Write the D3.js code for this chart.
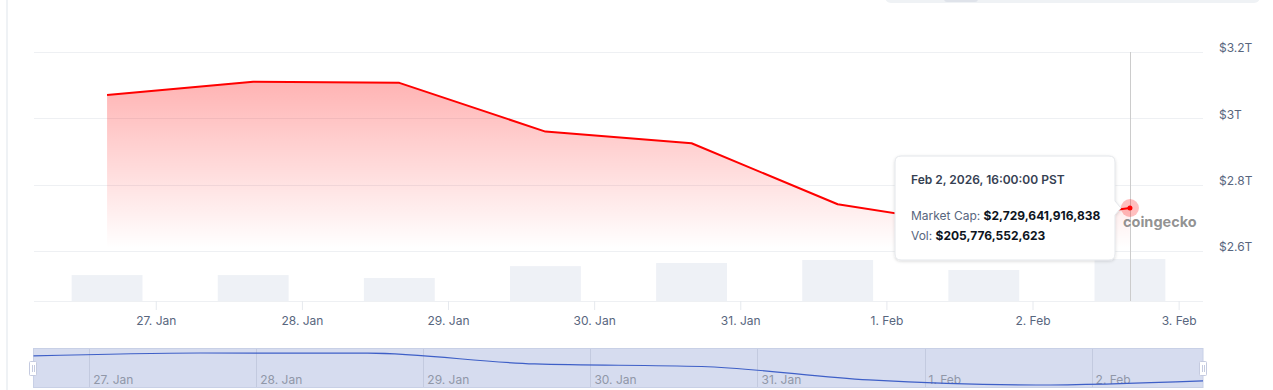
<!DOCTYPE html>
<html>
<head>
<meta charset="utf-8">
<script src="https://cdn.jsdelivr.net/npm/d3@7"></script>
<style>
  html, body { margin: 0; padding: 0; background: #fff; }
  svg { display: block; font-family: Inter, "Noto Sans", sans-serif; }
</style>
</head>
<body>
<svg id="chart" width="1273" height="390"></svg>
<script>
// daily points, 16:00 PST
const days = ['2026-01-26', '2026-01-27', '2026-01-28', '2026-01-29', '2026-01-30', '2026-01-31', '2026-02-01', '2026-02-02'];
const marketCap = [3.070e12, 3.110e12, 3.107e12, 2.960e12, 2.925e12, 2.741e12, 2.672e12, 2.729641916838e12];
const volume = [127e9, 127e9, 113e9, 171e9, 186e9, 201e9, 152e9, 205.776552623e9];
const priceTicks = [2.6e12, 2.8e12, 3.0e12, 3.2e12];
const tickDays = ['2026-01-27', '2026-01-28', '2026-01-29', '2026-01-30', '2026-01-31', '2026-02-01', '2026-02-02', '2026-02-03'];
const navTickDays = ['2026-01-27', '2026-01-28', '2026-01-29', '2026-01-30', '2026-01-31', '2026-02-01', '2026-02-02'];

const HOUR = 3600e3, DAY = 24 * HOUR;
const t = s => Date.parse(s + 'T00:00:00Z');
const data = days.map((d, i) => ({ date: new Date(t(d) + 16 * HOUR), cap: marketCap[i], vol: volume[i] }));
const last = data[data.length - 1];

const svg = d3.select('#chart');
const defs = svg.append('defs');

const x = d3.scaleUtc()
  .domain([new Date(t('2026-01-26') + 4 * HOUR), new Date(t('2026-02-03') + 4 * HOUR)])
  .range([34, 1203]);
const y = d3.scaleLinear().domain([2.6e12, 3.2e12]).range([251, 52]);
const yVol = d3.scaleLinear().domain([0, 250e9]).range([301, 250]);

// page chrome
svg.append('rect').attr('x', 6).attr('y', 0).attr('width', 2).attr('height', 390).attr('fill', '#eff2f5');
svg.append('rect').attr('x', 885).attr('y', -20).attr('width', 375).attr('height', 23).attr('rx', 6).attr('fill', '#eff2f5');
svg.append('rect').attr('x', 944).attr('y', -4).attr('width', 34).attr('height', 6).attr('rx', 3).attr('fill', '#dfe3ea');

// grid
svg.append('g').selectAll('line').data(priceTicks).join('line')
  .attr('x1', 34).attr('x2', 1203)
  .attr('y1', d => Math.round(y(d)) + 0.5).attr('y2', d => Math.round(y(d)) + 0.5)
  .attr('stroke', '#eef0f3');
svg.append('line').attr('x1', 34).attr('x2', 1203).attr('y1', 301.5).attr('y2', 301.5).attr('stroke', '#eef0f3');

// y labels
const fmtT = v => '$' + d3.format('~g')(v / 1e12) + 'T';
svg.append('g').selectAll('text').data(priceTicks).join('text')
  .attr('x', 1219).attr('y', d => y(d) - 4).attr('dy', '0.35em')
  .attr('font-size', 12).attr('fill', '#58667e')
  .text(fmtT);

// volume bars
const barW = 0.485 * DAY;
svg.append('g').selectAll('rect').data(data).join('rect')
  .attr('x', d => x(new Date(+d.date - barW / 2)))
  .attr('width', d => x(new Date(+d.date + barW / 2)) - x(new Date(+d.date - barW / 2)))
  .attr('y', d => yVol(d.vol))
  .attr('height', d => yVol(0) - yVol(d.vol))
  .attr('fill', '#eef1f6');

// area + line
const grad = defs.append('linearGradient').attr('id', 'fill')
  .attr('gradientUnits', 'userSpaceOnUse').attr('x1', 0).attr('x2', 0).attr('y1', 80).attr('y2', 248);
grad.append('stop').attr('offset', 0).attr('stop-color', 'rgb(255,0,0)').attr('stop-opacity', 0.3);
grad.append('stop').attr('offset', 1).attr('stop-color', 'rgb(255,0,0)').attr('stop-opacity', 0);

svg.append('path').datum(data)
  .attr('d', d3.area().x(d => x(d.date)).y0(248).y1(d => y(d.cap)))
  .attr('fill', 'url(#fill)');
svg.append('path').datum(data)
  .attr('d', d3.line().x(d => x(d.date)).y(d => y(d.cap)))
  .attr('fill', 'none').attr('stroke', '#ff0000').attr('stroke-width', 2).attr('stroke-linejoin', 'round');

// x axis
const xAxis = svg.append('g').attr('transform', 'translate(0,301)')
  .call(d3.axisBottom(x).tickValues(tickDays.map(d => new Date(t(d))))
    .tickFormat(d3.utcFormat('%-d. %b')).tickSize(9).tickPadding(6).tickSizeOuter(0));
xAxis.select('.domain').remove();
xAxis.selectAll('line').attr('stroke', '#e6e9ee');
xAxis.selectAll('text').attr('font-size', 12).attr('fill', '#58667e').attr('font-family', 'Inter, sans-serif');

// crosshair + hover marker
svg.append('line').attr('x1', Math.round(x(last.date)) + 0.5).attr('x2', Math.round(x(last.date)) + 0.5)
  .attr('y1', 52).attr('y2', 301).attr('stroke', '#cccccc');

svg.append('text').attr('x', 1123).attr('y', 227)
  .attr('font-size', 14.5).attr('font-weight', 700).attr('fill', '#8c8c8c').attr('fill-opacity', 0.95)
  .text('coingecko');

svg.append('circle').attr('cx', x(last.date)).attr('cy', y(last.cap)).attr('r', 9)
  .attr('fill', '#ff0000').attr('fill-opacity', 0.25);
svg.append('circle').attr('cx', x(last.date)).attr('cy', y(last.cap)).attr('r', 2.5).attr('fill', '#ff0000');

// tooltip
const shadow = defs.append('filter').attr('id', 'shadow').attr('x', '-10%').attr('y', '-10%').attr('width', '130%').attr('height', '130%');
shadow.append('feDropShadow').attr('dx', 0).attr('dy', 1).attr('stdDeviation', 1.5).attr('flood-color', '#000').attr('flood-opacity', 0.15);

const tx = 895, ty = 156, tw = 220, th = 104, r = 6;
const ay = y(last.cap), ax = x(last.date) - 9;
const tipPath = [
  `M${tx + r},${ty}`, `H${tx + tw - r}`, `Q${tx + tw},${ty} ${tx + tw},${ty + r}`,
  `V${ay - 7}`, `L${ax},${ay}`, `L${tx + tw},${ay + 7}`,
  `V${ty + th - r}`, `Q${tx + tw},${ty + th} ${tx + tw - r},${ty + th}`,
  `H${tx + r}`, `Q${tx},${ty + th} ${tx},${ty + th - r}`,
  `V${ty + r}`, `Q${tx},${ty} ${tx + r},${ty}`, 'Z'
].join(' ');
const tip = svg.append('g');
tip.append('path').attr('d', tipPath).attr('fill', '#fff').attr('stroke', '#e3e6ea').attr('filter', 'url(#shadow)');

const fmtNum = d3.format(',.0f');
tip.append('text').attr('x', 911).attr('y', 184).attr('font-size', 12).attr('font-weight', 600).attr('fill', '#364152')
  .text('Feb 2, 2026, 16:00:00 PST');
const l1 = tip.append('text').attr('x', 911).attr('y', 220).attr('font-size', 12);
l1.append('tspan').attr('fill', '#58667e').text('Market Cap: ');
l1.append('tspan').attr('fill', '#0d1421').attr('font-weight', 700).text('$' + fmtNum(last.cap));
const l2 = tip.append('text').attr('x', 911).attr('y', 240).attr('font-size', 12);
l2.append('tspan').attr('fill', '#58667e').text('Vol: ');
l2.append('tspan').attr('fill', '#0d1421').attr('font-weight', 700).text('$' + fmtNum(last.vol));

// navigator
const nx = d3.scaleUtc().domain([data[0].date, last.date]).range([33.5, 1203]);
const ny = d3.scaleLinear().domain(d3.extent(marketCap)).range([385, 353]);
const nav = svg.append('g');
nav.append('rect').attr('x', 33.5).attr('y', 348.5).attr('width', 1169.5).attr('height', 39)
  .attr('fill', '#d6dcef').attr('stroke', '#c8d0e6');
nav.append('g').selectAll('line').data(navTickDays).join('line')
  .attr('x1', d => Math.round(nx(new Date(t(d)))) + 0.5).attr('x2', d => Math.round(nx(new Date(t(d)))) + 0.5)
  .attr('y1', 349).attr('y2', 387).attr('stroke', '#c3cadf');
nav.append('g').selectAll('text').data(navTickDays).join('text')
  .attr('x', d => nx(new Date(t(d))) + 4).attr('y', 384)
  .attr('font-size', 12).attr('fill', '#9097a8')
  .text(d => d3.utcFormat('%-d. %b')(new Date(t(d))));
nav.append('path').datum(data)
  .attr('d', d3.line().curve(d3.curveMonotoneX).x(d => nx(d.date)).y(d => ny(d.cap)))
  .attr('fill', 'none').attr('stroke', '#3e5fc7').attr('stroke-width', 1.2);

[33, 1203].forEach(hx => {
  const h = nav.append('g').attr('transform', `translate(${hx},361)`);
  h.append('rect').attr('x', -3.5).attr('y', 0.5).attr('width', 7).attr('height', 14).attr('rx', 1)
    .attr('fill', '#fff').attr('stroke', '#c5cbe0');
  [-1, 1].forEach(o => h.append('line').attr('x1', o + 0.5).attr('x2', o + 0.5).attr('y1', 4).attr('y2', 11).attr('stroke', '#c5cbe0'));
});
</script>
</body>
</html>
